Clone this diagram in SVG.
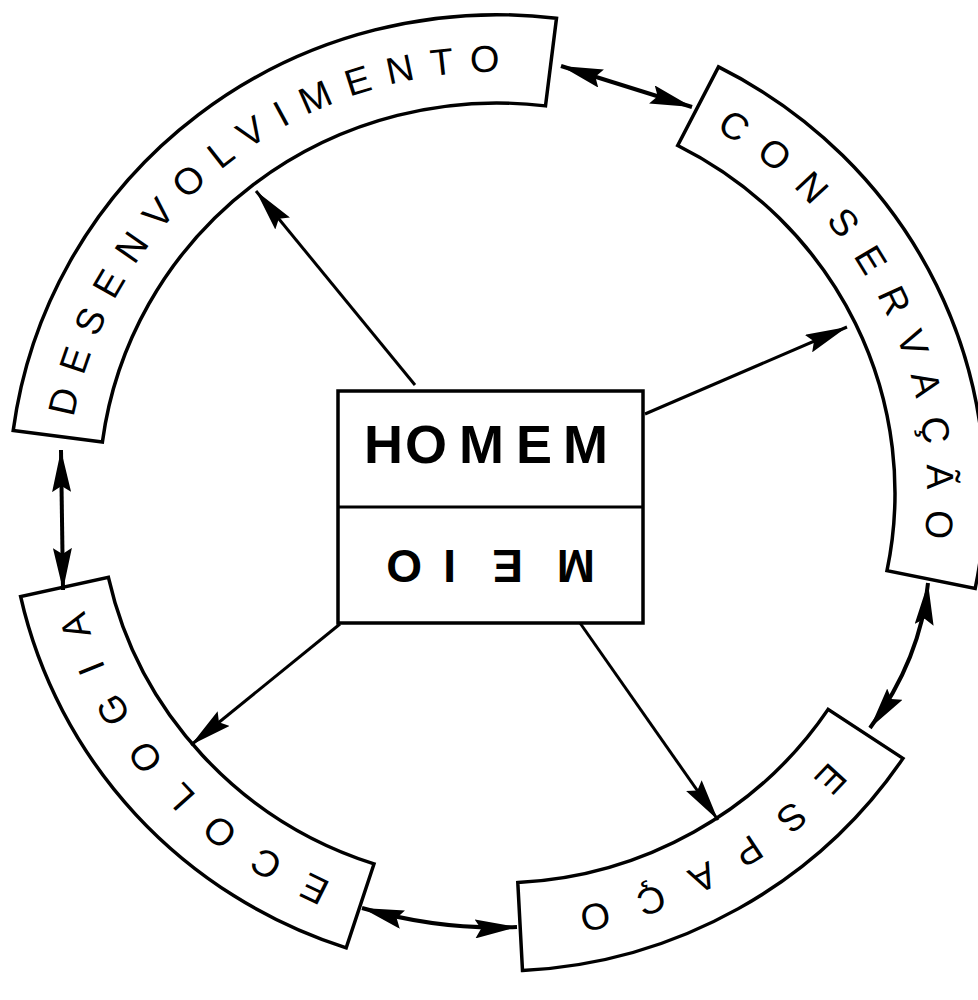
<svg xmlns="http://www.w3.org/2000/svg" width="978" height="1000" viewBox="0 0 978 1000">
<style>
.seg{fill:#fff;stroke:#000;stroke-width:3.5;stroke-linejoin:miter}
.lbl{font-family:"Liberation Sans",Arial,sans-serif;font-size:38px;fill:#000}
.con{fill:none;stroke:#000;stroke-width:3}
.dbl{stroke-width:4}
.box{fill:#fff;stroke:#000;stroke-width:3.5}
.big{font-family:"Liberation Sans",Arial,sans-serif;font-weight:bold;fill:#000}
</style>
<defs>
<marker id="ah" markerUnits="userSpaceOnUse" markerWidth="42" markerHeight="19" viewBox="0 0 42 19" refX="42" refY="9.5" orient="auto-start-reverse">
<path d="M0,0 L42,9.5 L0,19 L6,9.5 Z" fill="#000"/>
</marker>
<path id="tDES" d="M-423.1,-76.9 A430,430 0 0 1 117.1,-413.7"/>
<path id="tCON" d="M218.2,-370.5 A430,430 0 0 1 397.3,164.6"/>
<path id="tESP" d="M332.3,272.9 A430,430 0 0 1 -33.7,428.7"/>
<path id="tECO" d="M-165.2,397.0 A430,430 0 0 1 -429.9,9.0"/>
</defs>
<rect width="978" height="1000" fill="#fff"/>
<g transform="translate(497,493) scale(1,0.98)">
<g id="desenvolvimento">
<path class="seg" d="M-483.8,-63.7 A488,488 0 0 1 59.5,-484.4 L48.5,-395.0 A398,398 0 0 0 -394.6,-52.0 Z"/>
<text class="lbl" letter-spacing="16"><textPath href="#tDES">DESENVOLVIMENTO</textPath></text>
</g>
<g id="conservacao">
<path class="seg" d="M221.5,-434.8 A488,488 0 0 1 478.2,97.3 L390.0,79.3 A398,398 0 0 0 180.7,-354.6 Z"/>
<text class="lbl" letter-spacing="20"><textPath href="#tCON">CONSERVAÇÃO</textPath></text>
</g>
<g id="espaco">
<path class="seg" d="M406.0,270.8 A488,488 0 0 1 25.5,487.3 L20.8,397.5 A398,398 0 0 0 331.1,220.8 Z"/>
<text class="lbl" letter-spacing="28.5"><textPath href="#tESP">ESPAÇO</textPath></text>
</g>
<g id="ecologia">
<path class="seg" d="M-150.8,464.1 A488,488 0 0 1 -476.4,105.6 L-388.6,86.1 A398,398 0 0 0 -123.0,378.5 Z"/>
<text class="lbl" letter-spacing="26.5"><textPath href="#tECO">ECOLOGIA</textPath></text>
</g>
</g>
<g id="homem-meio">
<rect class="box" x="338" y="391" width="305" height="232"/>
<line x1="338" y1="507" x2="643" y2="507" stroke="#000" stroke-width="3"/>
<text class="big" font-size="54" x="364 405 459 516 563" y="463">HOMEM</text>
<text class="big" font-size="46" x="385 457 524 558" y="582" transform="rotate(180 490 566)">MEIO</text>
</g>
<g id="connectors">
<line class="con dbl" x1="561" y1="66" x2="692" y2="107" marker-start="url(#ah)" marker-end="url(#ah)"/>
<line class="con dbl" x1="61" y1="450" x2="63" y2="590" marker-start="url(#ah)" marker-end="url(#ah)"/>
<path class="con dbl" d="M362,908 Q440.5,930.5 517,927" marker-start="url(#ah)" marker-end="url(#ah)"/>
<path class="con dbl" d="M928,583 Q921,658.5 870,728" marker-start="url(#ah)" marker-end="url(#ah)"/>
<line class="con" x1="415" y1="385" x2="256" y2="191" marker-end="url(#ah)"/>
<line class="con" x1="645" y1="414" x2="847" y2="327" marker-end="url(#ah)"/>
<line class="con" x1="340" y1="624" x2="191" y2="745" marker-end="url(#ah)"/>
<line class="con" x1="580" y1="623" x2="718" y2="820" marker-end="url(#ah)"/>
</g>
</svg>
